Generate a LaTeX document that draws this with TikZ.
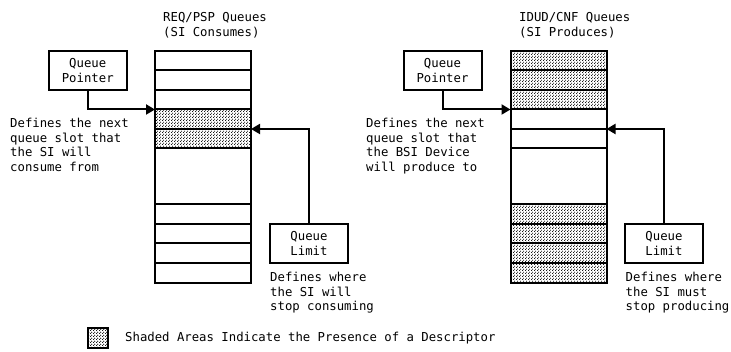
\documentclass[tikz,border=0pt]{standalone}
\usepackage{fontspec}
\newfontfamily\plotfont{DejaVu Sans Mono}
\usetikzlibrary{arrows.meta,patterns}

% dense dot screen used for occupied queue slots
\pgfdeclarepatternformonly{slotdots}{\pgfpointorigin}{\pgfqpoint{3pt}{3pt}}{\pgfqpoint{3pt}{3pt}}{%
  \pgfpathcircle{\pgfqpoint{0.75pt}{0.75pt}}{0.7pt}%
  \pgfpathcircle{\pgfqpoint{2.25pt}{2.25pt}}{0.7pt}%
  \pgfusepath{fill}}

\tikzset{
  txt/.style={font=\plotfont\fontsize{12.3}{14.4}\selectfont},
  hollow/.style={draw, line width=2pt, minimum width=96pt, inner sep=0pt, outer sep=0pt},
  full/.style={hollow, pattern=slotdots},
  labelbox/.style={txt, draw, line width=2pt, minimum width=78pt, minimum height=39pt,
                   align=center, inner sep=0pt, outer sep=0pt},
  note/.style={txt, align=left, anchor=north west, inner sep=0pt},
  ptr/.style={line width=2pt, -{Triangle[length=9pt,width=10pt]}},
}

\begin{document}
\begin{tikzpicture}[x=1pt,y=-1pt]
\useasboundingbox (0,0) rectangle (731,352);

% ---- REQ/PSP queue (consumed by the SI) ----
\node[note] (ltitle) at (163,12.5) {REQ/PSP Queues\\(SI Consumes)};
\foreach \i/\t/\b/\s in {1/51/70.5/hollow, 2/70.5/90/hollow, 3/90/109.5/hollow,
    4/109.5/129/full, 5/129/148.5/full, 6/148.5/204/hollow,
    7/204/223.75/hollow, 8/223.75/243.5/hollow, 9/243.5/263.25/hollow, 10/263.25/283/hollow}
  \node[\s, minimum height={\b-\t}] (L\i) at (203,{(\t+\b)/2}) {};

\node[labelbox] (LP) at (87.75,70.5) {Queue\\Pointer};
\node[labelbox] (LL) at (309,243.5) {Queue\\Limit};
\draw[ptr] (LP.south) |- (L4.north west);
\draw[ptr] (LL.north) |- (L5.north east);

\node[note] (lptrnote) at (10,118.4) {Defines the next\\queue slot that\\the SI will\\consume from};
\node[note] (llimnote) at (270,272.4) {Defines where\\the SI will\\stop consuming};

% ---- IDUD/CNF queue (produced by the SI) ----
\node[note] (rtitle) at (519,12.5) {IDUD/CNF Queues\\(SI Produces)};
\foreach \i/\t/\b/\s in {1/51/70.5/full, 2/70.5/90/full, 3/90/109.5/full,
    4/109.5/129/hollow, 5/129/148.5/hollow, 6/148.5/204/hollow,
    7/204/223.75/full, 8/223.75/243.5/full, 9/243.5/263.25/full, 10/263.25/283/full}
  \node[\s, minimum height={\b-\t}] (R\i) at (558.5,{(\t+\b)/2}) {};

\node[labelbox] (RP) at (442.5,70.5) {Queue\\Pointer};
\node[labelbox] (RL) at (664,243.5) {Queue\\Limit};
\draw[ptr] (RP.south) |- (R4.north west);
\draw[ptr] (RL.north) |- (R5.north east);

\node[note] (rptrnote) at (366,118.4) {Defines the next\\queue slot that\\the BSI Device\\will produce to};
\node[note] (rlimnote) at (625.5,272.4) {Defines where\\the SI must\\stop producing};

% ---- key ----
\node[full, minimum width=20pt, minimum height=20pt] (key) at (98,338) {};
\node[txt, anchor=west, inner sep=0pt] (keytext) at (125,338)
  {Shaded Areas Indicate the Presence of a Descriptor};
\end{tikzpicture}
\end{document}
